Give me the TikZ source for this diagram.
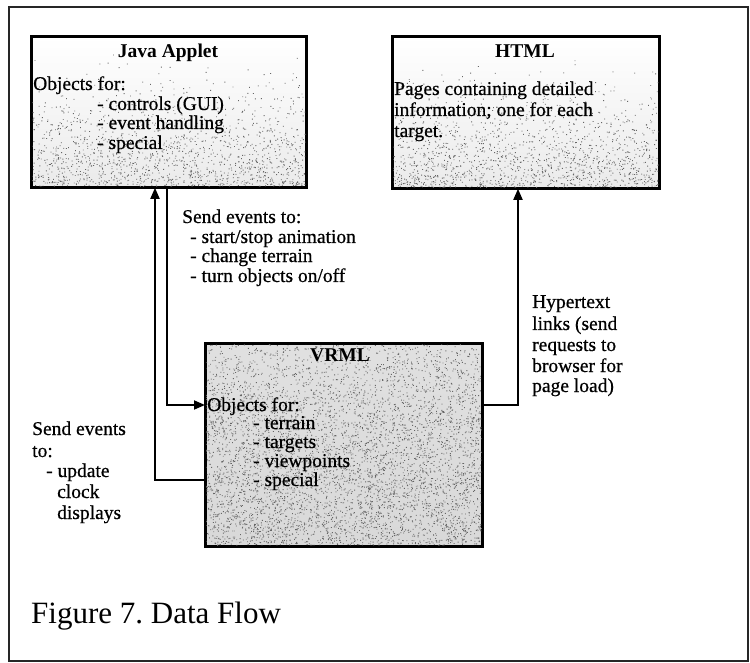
\documentclass[tikz,border=0pt]{standalone}
\usepackage{fontspec}
\setmainfont{Liberation Serif}
\newfontfamily\scanfont{Liberation Serif}[FakeBold=0.6]
\usetikzlibrary{arrows.meta}
\frenchspacing
\begin{document}
\begin{tikzpicture}[x=1pt,y=-1pt,
  boxlight/.style={draw=black,line width=1.8pt,anchor=north west,inner sep=0pt,
    top color=white,bottom color=black!8},
  boxdark/.style={draw=black,line width=1.8pt,anchor=north west,inner sep=0pt,
    top color=black!12,bottom color=black!15},
  outline/.style={draw=black,line width=1.8pt},
  speck/.style={fill=black!60},
  txt/.style={anchor=base west,inner sep=0pt,font=\fontsize{19.5}{21}\scanfont},
  ttl/.style={anchor=base,inner sep=0pt,font=\fontsize{19.5}{21}\selectfont\bfseries},
  arr/.style={line width=1.8pt,-{Triangle[length=11pt,width=9pt]}}]
\useasboundingbox (0,0) rectangle (750,663);
% outer frame
\draw[line width=1.3pt,black!85] (9,7) rectangle (748,661);
% boxes
\node[boxlight,minimum width=274pt,minimum height=150pt] (java) at (31,36) {};
\node[boxlight,minimum width=266pt,minimum height=151pt] (html) at (392,36) {};
\node[boxdark,minimum width=276pt,minimum height=202pt] (vrml) at (205,343) {};
% stipple texture
\pgfmathsetseed{17}
\begin{scope}
\clip (java.south west) rectangle (java.north east);
\foreach \k in {1,...,3}{
\fill[speck] \foreach \i in {1,...,500} {({31+274*rnd},{36+150*pow(rnd,0.3)}) rectangle ++(0.9,0.9)};}
\end{scope}
\begin{scope}
\clip (html.south west) rectangle (html.north east);
\foreach \k in {1,...,3}{
\fill[speck] \foreach \i in {1,...,500} {({392+266*rnd},{36+151*pow(rnd,0.28)}) rectangle ++(0.9,0.9)};}
\end{scope}
\begin{scope}
\clip (vrml.south west) rectangle (vrml.north east);
\foreach \k in {1,...,11}{
\fill[speck] \foreach \i in {1,...,500} {({205+276*rnd},{343+202*pow(rnd,0.8)}) rectangle ++(0.9,0.9)};}
\end{scope}
\draw[outline] (java.south west) rectangle (java.north east);
\draw[outline] (html.south west) rectangle (html.north east);
\draw[outline] (vrml.south west) rectangle (vrml.north east);
% Java text
\node[ttl] (jt) at (168,58) {Java Applet};
\node[txt] (j1) at (33,90) {Objects for:};
\node[txt] (j2) at (97,110) {- controls (GUI)};
\node[txt] (j3) at (97,129) {- event handling};
\node[txt] (j4) at (97,149) {- special};
% HTML text
\node[ttl] (ht) at (525,58) {HTML};
\node[txt] (h1) at (394,95) {Pages containing detailed};
\node[txt] (h2) at (394,116) {information; one for each};
\node[txt] (h3) at (394,137) {target.};
% middle text
\node[txt] (s1) at (182,223) {Send events to:};
\node[txt] (s2) at (190,243) {- start/stop animation};
\node[txt] (s3) at (190,262) {- change terrain};
\node[txt] (s4) at (190,282) {- turn objects on/off};
% VRML text
\node[ttl] (vt) at (340,361) {VRML};
\node[txt] (v1) at (207,411) {Objects for:};
\node[txt] (v2) at (253,429) {- terrain};
\node[txt] (v3) at (253,448) {- targets};
\node[txt] (v4) at (253,467) {- viewpoints};
\node[txt] (v5) at (253,486) {- special};
% left text
\node[txt] (l1) at (32,435) {Send events};
\node[txt] (l2) at (32,457) {to:};
\node[txt] (l3) at (46,477) {- update};
\node[txt] (l4) at (57,498) {clock};
\node[txt] (l5) at (57,519) {displays};
% right text
\node[txt] (r1) at (532,308) {Hypertext};
\node[txt] (r2) at (532,330) {links (send};
\node[txt] (r3) at (532,351) {requests to};
\node[txt] (r4) at (532,372) {browser for};
\node[txt] (r5) at (532,392) {page load)};
% caption
\node[anchor=base west,inner sep=0pt,font=\fontsize{31}{34}\selectfont] (cap) at (31,623) {Figure 7. Data Flow};
% connectors
\draw[arr] (vrml.west |- 0,480) -| (java.south -| 155,0);
\draw[arr] (java.south -| 167,0) |- (vrml.west |- 0,405);
\draw[arr] (vrml.east |- 0,405) -| (html.south -| 518,0);
\end{tikzpicture}
\end{document}
